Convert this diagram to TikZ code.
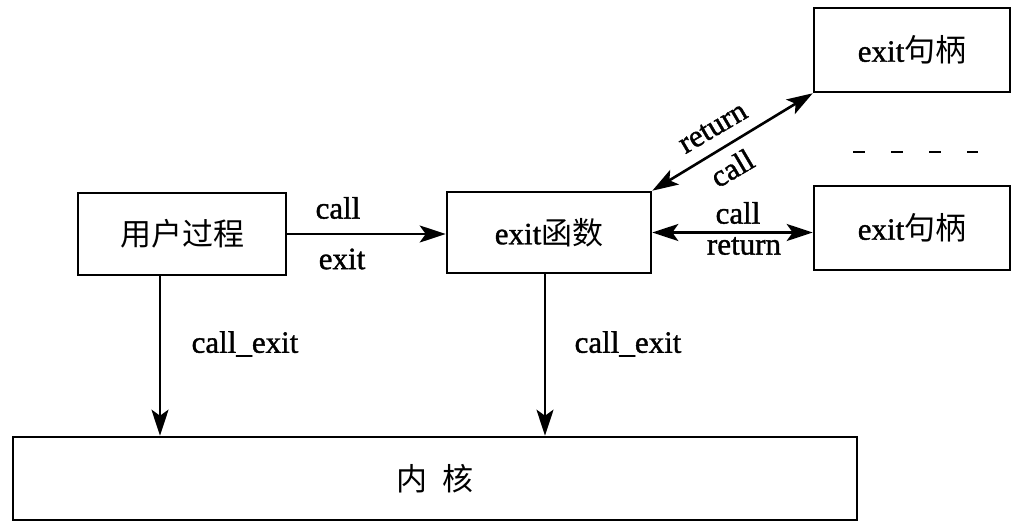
\documentclass[tikz,border=0pt]{standalone}
\usepackage{fontspec}
\setmainfont{Liberation Serif}[FakeBold=1.2]
\newfontfamily\cjk{Noto Sans CJK SC}
\usetikzlibrary{arrows.meta}
\tikzset{
  headtip/.tip={Stealth[length=26pt,width=17pt,inset=6pt]},
  box/.style={draw,line width=2.6pt,rectangle,inner sep=0pt,font=\fontsize{31}{36}\selectfont},
  arr/.style={line width=2.6pt,-headtip},
  darr/.style={line width=2.6pt,headtip-headtip},
  lbl/.style={inner sep=0pt,font=\fontsize{31}{36}\selectfont}}
\begin{document}
\begin{tikzpicture}[x=1pt,y=-1pt]
\useasboundingbox (0,0) rectangle (1030,532);
\node[box,minimum width=208pt,minimum height=82pt] (user) at (182,234) {\cjk 用户过程};
\node[box,minimum width=204pt,minimum height=81pt] (func) at (549,232.5) {exit{\cjk 函数}};
\node[box,minimum width=196pt,minimum height=84pt] (htop) at (912,50) {exit{\cjk 句柄}};
\node[box,minimum width=196pt,minimum height=84pt] (hbot) at (912,228) {exit{\cjk 句柄}};
\node[box,minimum width=844pt,minimum height=83pt] (kern) at (435,478.5) {\cjk 内\hspace{0.5em}核};
% arrows
\draw[arr] (user.east) -- (user.east -| func.west);
\draw[darr] (func.east) -- (func.east -| hbot.west);
\draw[darr] (func.north east) -- (htop.south west);
\draw[arr] ([xshift=-22pt]user.south) -- ([xshift=-22pt]user.south |- kern.north);
\draw[arr] ([xshift=-4pt]func.south) -- ([xshift=-4pt]func.south |- kern.north);
% labels
\node[lbl] (l1) at (338,208) {call};
\node[lbl] (l2) at (342,259) {exit};
\node[lbl] (l3) at (738,213) {call};
\node[lbl] (l4) at (744,246) {return};
\node[lbl,rotate=30.5] (l5) at (713,128) {return};
\node[lbl,rotate=30.5] (l6) at (732,168) {call};
\node[lbl] (l7) at (245,344) {call\_exit};
\node[lbl] (l8) at (628,344) {call\_exit};
% dashes
\coordinate (d1) at (853,152);
\coordinate (d2) at (978,152);
\draw[line width=2.6pt,dash pattern=on 12pt off 26pt] (d1) -- (d2);
\end{tikzpicture}
\end{document}
